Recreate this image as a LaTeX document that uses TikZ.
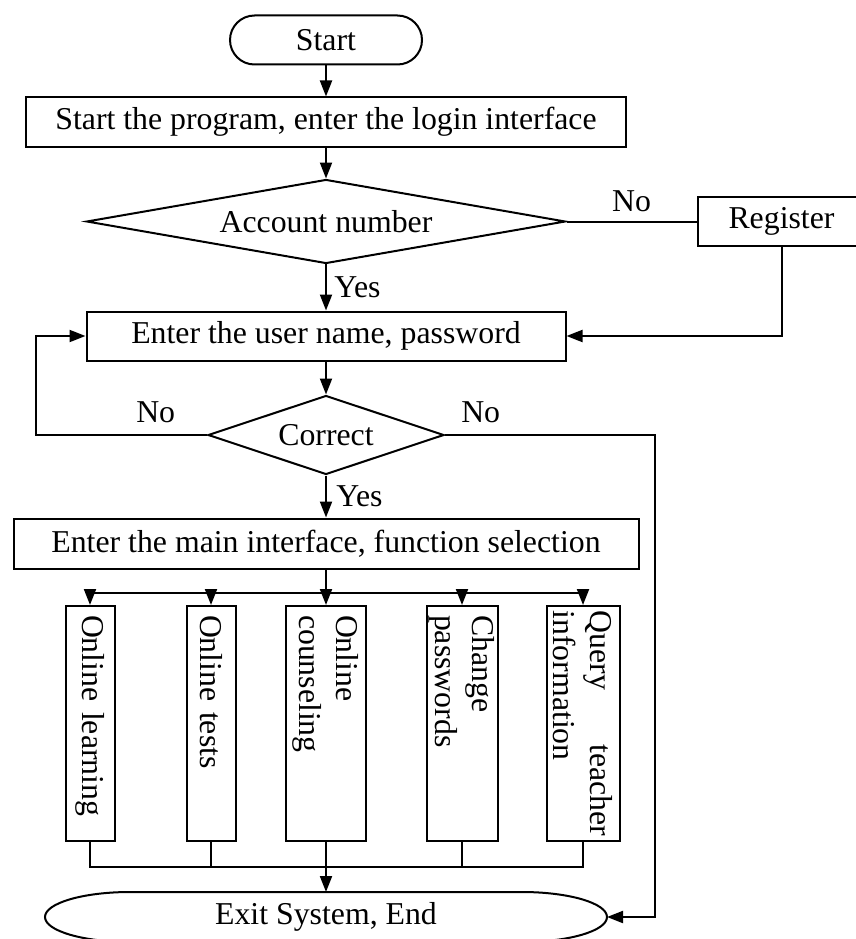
\documentclass[tikz,border=0pt]{standalone}
\usepackage{fontspec}
\setmainfont{Liberation Serif}
\usetikzlibrary{arrows.meta,positioning,shapes.geometric,calc}

\begin{document}
\begin{tikzpicture}[
  x=1pt, y=1pt, >={Triangle[length=16pt,width=12pt]}, line width=2pt,
  font=\fontsize{31.8}{37}\selectfont, node distance=31pt,
  box/.style={draw, minimum height=49pt, inner sep=0pt},
  cond/.style={draw, diamond, inner sep=0pt},
  func/.style={draw, rotate=-90, minimum width=235pt, text width=217pt, align=left, inner xsep=9pt, inner ysep=0pt},
]
\useasboundingbox (0,0) rectangle (856,-939);
\node[box, rounded corners=24.5pt, minimum width=192pt] (start) at (326,-40) {Start};
\node[box, minimum width=600pt, below=of start] (login) {Start the program, enter the login interface};
\node[cond, aspect=5.7, minimum width=479pt, minimum height=84pt, below=of login] (acct) {Account number};
\node[box, minimum width=168pt, right=130pt of acct] (reg) {Register};
\node[box, minimum width=479pt, below=46pt of acct] (user) {Enter the user name, password};
\node[cond, aspect=3, minimum width=236pt, minimum height=79pt, below=33pt of user] (check) {Correct};
\node[box, minimum width=625pt, minimum height=50pt, below=42pt of check] (menu) {Enter the main interface, function selection};
\coordinate[below=23pt of menu] (split);

% function boxes
\node[func, minimum height=49pt] (learn) at (90,-723.5) {Online learning};
\node[func, minimum height=49pt] (tests) at (211,-723.5) {Online tests};
\node[func, minimum height=80pt] (counsel) at (326,-723.5) {Online\\counseling};
\node[func, minimum height=71pt] (passwd) at (462,-723.5) {Change\\passwords};
\node[func, minimum height=73pt, text width=226pt, inner xsep=4.5pt] (query) at (583,-723.5) {Query\hfill teacher\\information};

% end
\node[minimum width=562pt, minimum height=50pt, inner sep=0pt, outer sep=0pt] (exit) at (326,-917) {Exit System, End};
\draw ($(exit.north west)+(85,0)$) -- ($(exit.north east)+(-85,0)$)
  arc[start angle=90, end angle=-90, x radius=85, y radius=25]
  -- ($(exit.south west)+(85,0)$)
  arc[start angle=270, end angle=90, x radius=85, y radius=25] -- cycle;
\coordinate[above=25pt of exit] (join);

\draw[->] (start) -- (login);
\draw[->] (login) -- (acct);
\draw[->] (acct) -- node[right=4pt] {Yes} (user);
\draw (acct) -- node[above=5pt] {No} (reg);
\draw[->] (reg) |- (user);
\draw[->] (user) -- (check);
\draw[->] (check) -- node[right=6pt] {Yes} (menu);
\draw[->] (check.west) -- node[pos=0.3, above=8pt] {No} ++(-171,0) |- (user);
\draw[->] (check.east) -- node[pos=0.17, above=8pt] {No} ++(210,0) |- (exit);
\draw (menu) -- (split);
\foreach \f in {learn,tests,counsel,passwd,query}
  \draw[->] (split) -| (\f);
\foreach \f in {learn,tests,counsel,passwd,query}
  \draw (\f) |- (join);
\draw[->] (join) -- (exit);
\end{tikzpicture}
\end{document}
